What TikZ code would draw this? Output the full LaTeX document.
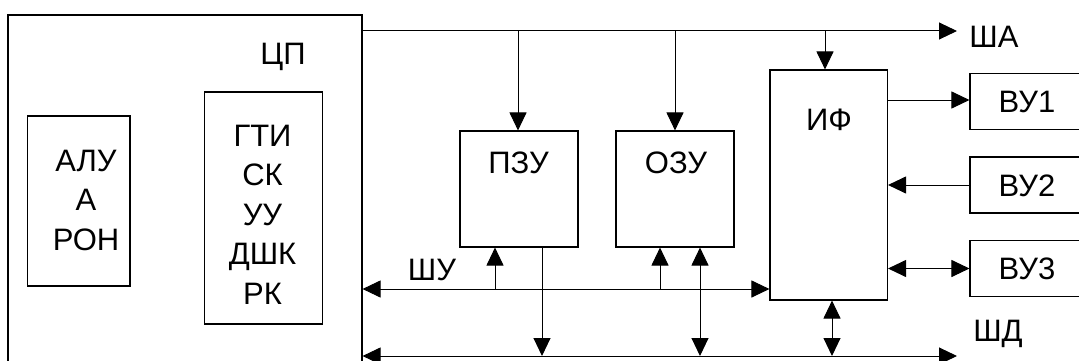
\documentclass[tikz,border=0pt]{standalone}
\usepackage{fontspec}
\setmainfont{Liberation Sans}
\usetikzlibrary{arrows.meta}
\tikzset{
  box/.style={draw, line width=1.1pt, rectangle, inner sep=0pt, fill=none},
  lbl/.style={inner sep=0pt, align=center, font=\fontsize{31}{39.5}\selectfont},
  arr/.style={line width=1pt, -{Triangle[length=18pt,width=17pt]}},
  darr/.style={line width=1pt, {Triangle[length=18pt,width=17pt]}-{Triangle[length=18pt,width=17pt]}},
}
\begin{document}
\begin{tikzpicture}[x=1pt,y=-1pt]
\useasboundingbox (0,0) rectangle (1079,361);
\clip (0,0) rectangle (1079,361);
% boxes
\node[box, minimum width=354pt, minimum height=375pt] (cp) at (185,202.5) {};
\node[box, minimum width=102.5pt, minimum height=170pt] (alu) at (78.75,201) {};
\node[box, minimum width=118.4pt, minimum height=232pt] (gti) at (263.5,208) {};
\node[box, minimum width=118pt, minimum height=116pt] (pzu) at (519,189) {};
\node[box, minimum width=118pt, minimum height=116pt] (ozu) at (675,189) {};
\node[box, minimum width=117.5pt, minimum height=230pt] (if) at (828.75,185) {};
\node[box, minimum width=150pt, minimum height=56pt] (vu1) at (1045,101.5) {};
\node[box, minimum width=150pt, minimum height=56pt] (vu2) at (1045,185) {};
\node[box, minimum width=150pt, minimum height=56pt] (vu3) at (1045,268.5) {};
% labels
\node[lbl, anchor=base] (tcp) at (283,64) {ЦП};
\node[lbl] (talu) at (86,200) {АЛУ\\А\\РОН};
\node[lbl] (tgti) at (262.5,214.5) {ГТИ\\СК\\УУ\\ДШК\\РК};
\node[lbl, anchor=base] (tpzu) at (518.5,173) {ПЗУ};
\node[lbl, anchor=base] (tozu) at (676,173) {ОЗУ};
\node[lbl, anchor=base] (tif) at (829,130) {ИФ};
\node[lbl, anchor=base] (tvu1) at (1027,112) {ВУ1};
\node[lbl, anchor=base] (tvu2) at (1027,196) {ВУ2};
\node[lbl, anchor=base] (tvu3) at (1027,279) {ВУ3};
\node[lbl, anchor=base] (tsha) at (994,48) {ША};
\node[lbl, anchor=base] (tshd) at (998,341) {ШД};
\node[lbl, anchor=base] (tshu) at (432,280) {ШУ};
% bus coordinates
\coordinate (shaE) at (957,31);
\coordinate (shdE) at (957,356);
\coordinate (a1) at (518,31);
\coordinate (a2) at (675,31);
\coordinate (a3) at (825,31);
\coordinate (u1) at (495,289);
\coordinate (u2) at (660,289);
\coordinate (d1) at (542,356);
\coordinate (d2) at (700,356);
\coordinate (d3) at (832,356);
% address bus
\draw[arr] (cp.east |- shaE) -- (shaE);
\draw[arr] (a1) -- (a1 |- pzu.north);
\draw[arr] (a2) -- (a2 |- ozu.north);
\draw[arr] (a3) -- (a3 |- if.north);
% control bus
\draw[darr] (cp.east |- u1) -- (if.west |- u1);
\draw[arr] (u1) -- (u1 |- pzu.south);
\draw[arr] (u2) -- (u2 |- ozu.south);
% data bus
\draw[darr] (cp.east |- shdE) -- (shdE);
\draw[arr] (d1 |- pzu.south) -- (d1);
\draw[darr] (d2 |- ozu.south) -- (d2);
\draw[darr] (d3 |- if.south) -- (d3);
% peripherals
\draw[arr] (if.east |- 0,100) -- (vu1.west |- 0,100);
\draw[arr] (vu2.west) -- (if.east |- vu2.west);
\draw[darr] (if.east |- vu3.west) -- (vu3.west);
\end{tikzpicture}
\end{document}
